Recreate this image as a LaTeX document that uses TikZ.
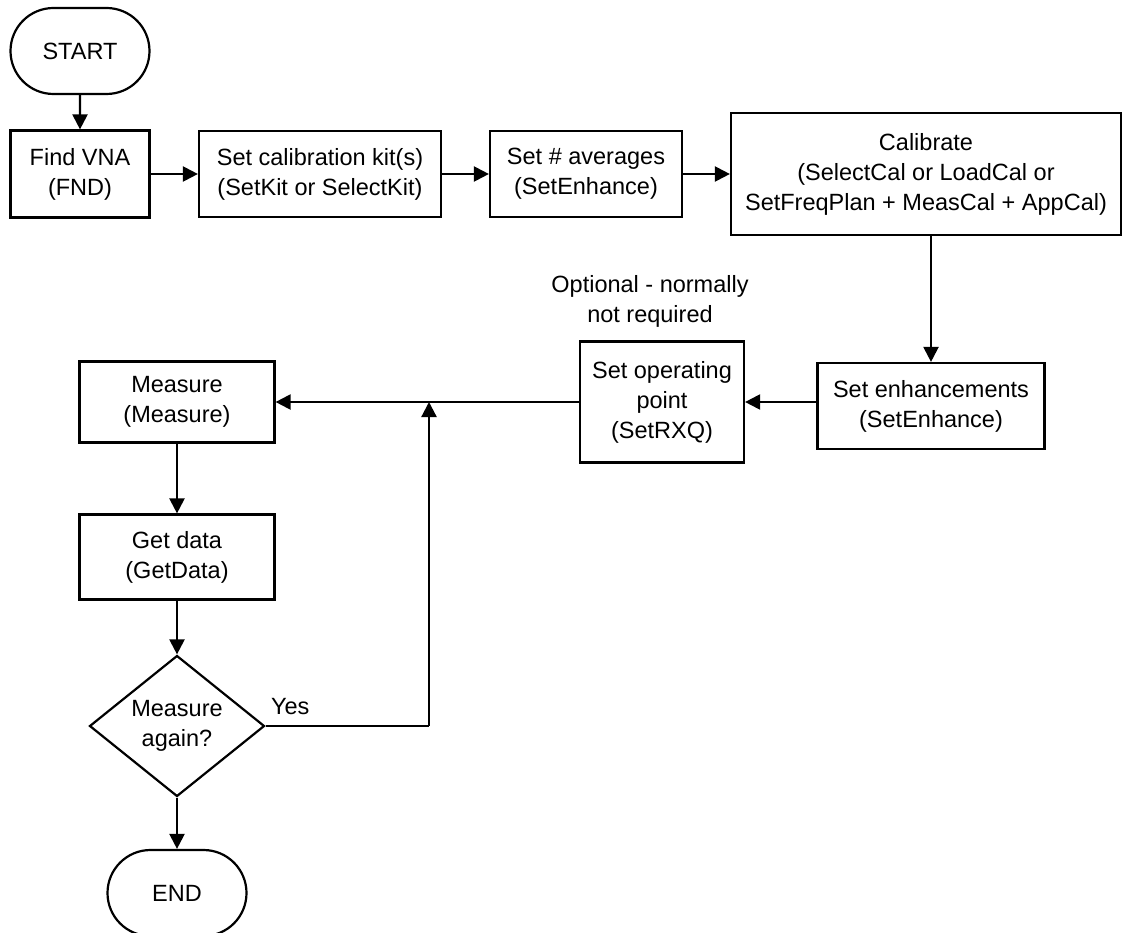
\documentclass[tikz,border=0pt]{standalone}
\usepackage{fontspec}
\setmainfont{Liberation Sans}
\usetikzlibrary{shapes.geometric,shapes.misc,arrows.meta}
\begin{document}
\begin{tikzpicture}[x=1pt,y=-1pt,
  every node/.style={font=\fontsize{23.5}{30}\selectfont, align=center, inner sep=0pt, line width=2.2pt},
  box/.style={draw, rectangle},
  term/.style={draw, rounded rectangle, minimum width=139pt, minimum height=86pt},
  dec/.style={draw, diamond, minimum width=175pt, minimum height=141pt, aspect=1.24},
  arr/.style={line width=2.2pt, -{Triangle[length=15pt,width=15pt]}},
  ln/.style={line width=2.2pt}
]
\clip (0,0) rectangle (1123,933);
\node[term] (start) at (80,51) {START};
\node[box, minimum width=139pt, minimum height=87pt] (find) at (80,174) {Find VNA\\(FND)};
\node[box, minimum width=242pt, minimum height=86pt] (kit) at (320,174) {Set calibration kit(s)\\(SetKit or SelectKit)};
\node[box, minimum width=192pt, minimum height=86pt] (avg) at (586,174) {Set \# averages\\(SetEnhance)};
\node[box, minimum width=390pt, minimum height=122pt] (cal) at (926,174) {Calibrate\\(SelectCal or LoadCal or\\SetFreqPlan + MeasCal + AppCal)};
\node[box, minimum width=227pt, minimum height=86pt] (enh) at (931,406) {Set enhancements\\(SetEnhance)};
\node[box, minimum width=164pt, minimum height=121pt] (op) at (662,402) {Set operating\\point\\(SetRXQ)};
\node (opt) at (650,301) {Optional - normally\\not required};
\node[box, minimum width=195pt, minimum height=81pt] (meas) at (177,402) {Measure\\(Measure)};
\node[box, minimum width=195pt, minimum height=85pt] (get) at (177,557) {Get data\\(GetData)};
\node[dec] (again) at (177,726) {Measure\\again?};
\node[term] (end) at (177,893) {END};
\node[anchor=south west] (yes) at (270,716) {Yes};
\coordinate (j) at (429,402);
\coordinate (c) at (429,726);

\draw[arr] (start) -- (find);
\draw[arr] (find) -- (kit);
\draw[arr] (kit) -- (avg);
\draw[arr] (avg) -- (cal);
\draw[arr] (cal.south -| enh.north) -- (enh.north);
\draw[arr] (enh.west |- op.east) -- (op.east);
\draw[arr] (op.west |- meas.east) -- (meas.east);
\draw[arr] (meas) -- (get);
\draw[arr] (get) -- (again);
\draw[arr] (again) -- (end);
\draw[ln] (again.east) -- (c);
\draw[arr] (c) -- (j);
\end{tikzpicture}
\end{document}
